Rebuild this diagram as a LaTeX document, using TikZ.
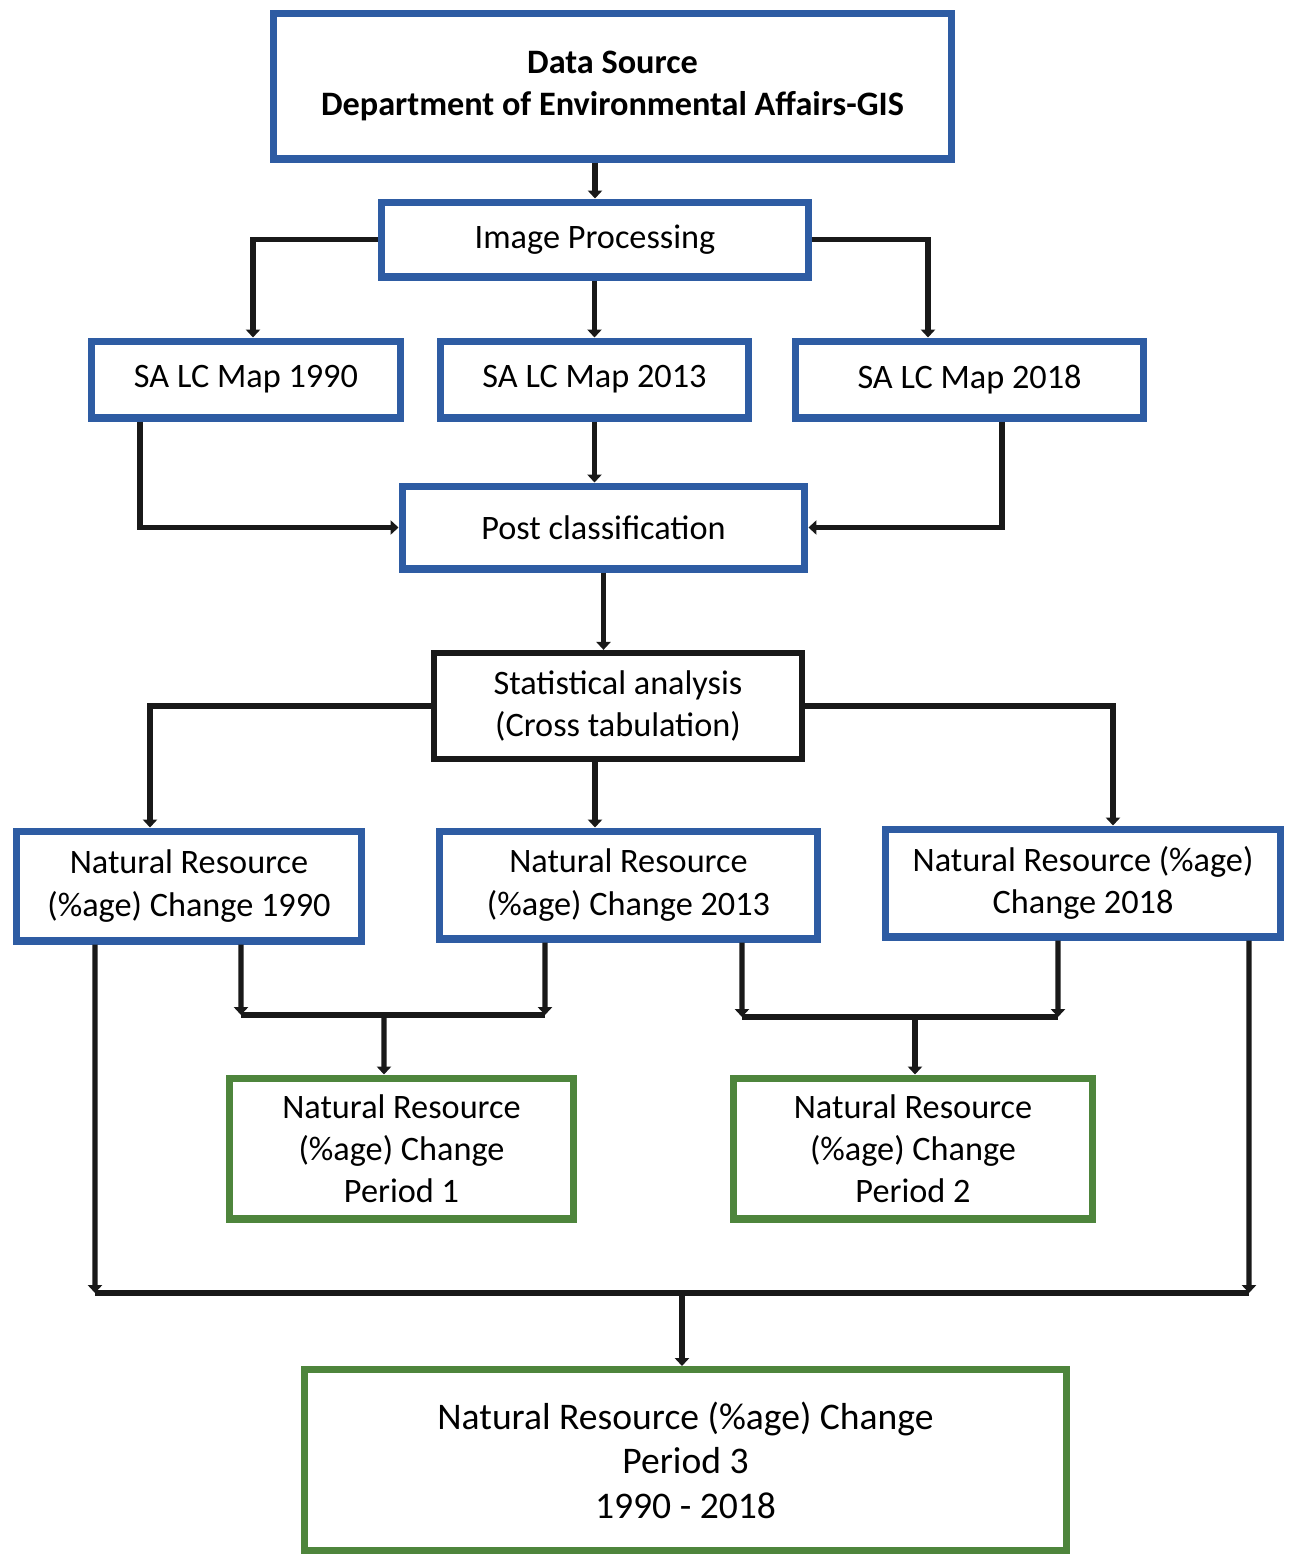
\documentclass[tikz,border=0pt]{standalone}
\usepackage{fontspec}
\setmainfont{Carlito}
\usetikzlibrary{arrows.meta, positioning}
\definecolor{boxblue}{RGB}{46,92,163}
\definecolor{boxgreen}{RGB}{78,133,60}
\begin{document}
\begin{tikzpicture}[
x=0.02cm, y=-0.02cm,
font=\fontsize{19.5}{24}\selectfont,
box/.style={draw, rectangle, line width=4pt, align=center, inner sep=2pt},
bluebox/.style={box, draw=boxblue},
greenbox/.style={box, draw=boxgreen},
blackbox/.style={box, draw=black!90, line width=3.6pt},
arrow/.style={-{Triangle[length=4.5pt,width=8pt]}, line width=3.1pt, black!90},
line/.style={line width=3.1pt, black!90}
]
\useasboundingbox (0,0) rectangle (1290,1556);

\node[bluebox, minimum width=13.58cm, minimum height=2.92cm] (source) at (612.5,86)
{\textbf{Data Source}\\
\textbf{Department of Environmental Affairs-GIS}};

\node[bluebox, minimum width=8.56cm, minimum height=1.5cm] (imgproc) at (595,239.5)
{Image Processing};

\node[bluebox, minimum width=6.2cm, minimum height=1.54cm] (map1990) at (246,379.5)
{SA LC Map 1990};

\node[bluebox, minimum width=6.18cm, minimum height=1.54cm] (map2013) at (594.5,379.5)
{SA LC Map 2013};

\node[bluebox, minimum width=6.98cm, minimum height=1.54cm] (map2018) at (969.5,379.5)
{SA LC Map 2018};

\node[bluebox, minimum width=8.06cm, minimum height=1.66cm] (postclass) at (603.5,527.5)
{Post classification};

\node[blackbox, minimum width=7.36cm, minimum height=2.12cm] (stats) at (618,706)
{Statistical analysis\\
(Cross tabulation)};

\node[bluebox, minimum width=6.92cm, minimum height=2.2cm] (nr1990) at (189,886)
{Natural Resource\\
(\%age) Change 1990};

\node[bluebox, minimum width=7.58cm, minimum height=2.16cm] (nr2013) at (628.5,885)
{Natural Resource\\
(\%age) Change 2013};

\node[bluebox, minimum width=7.92cm, minimum height=2.16cm] (nr2018) at (1083,883)
{Natural Resource (\%age)\\
Change 2018};

\node[greenbox, minimum width=6.9cm, minimum height=2.82cm] (period1) at (401.5,1148.5)
{Natural Resource\\
(\%age) Change\\
Period 1};

\node[greenbox, minimum width=7.2cm, minimum height=2.82cm] (period2) at (913,1148.5)
{Natural Resource\\
(\%age) Change\\
Period 2};

\node[greenbox, minimum width=15.26cm, minimum height=3.62cm,
  font=\fontsize{21.4}{25.4}\selectfont] (period3) at (685.5,1460)
{Natural Resource (\%age) Change\\
Period 3\\
1990 - 2018};

% merge points
\coordinate (mergeA) at (384,1015);
\coordinate (mergeAl) at (241,1015);
\coordinate (mergeAr) at (545,1015);
\coordinate (mergeB) at (915,1017);
\coordinate (mergeBl) at (742,1017);
\coordinate (mergeBr) at (1058,1017);
\coordinate (mergeC) at (682,1293);
\coordinate (mergeCl) at (95,1293);
\coordinate (mergeCr) at (1249,1293);

\draw[arrow] (imgproc.north |- source.south) -- (imgproc.north);
\draw[arrow] (imgproc.west) -| ([xshift=0.14cm]map1990.north);
\draw[arrow] (imgproc.south -| map2013.north) -- (map2013.north);
\draw[arrow] (imgproc.east) -| ([xshift=-0.83cm]map2018.north);

\draw[arrow] ([xshift=-2.12cm]map1990.south) |- (postclass.west);
\draw[arrow] (map2013.south) -- (map2013.south |- postclass.north);
\draw[arrow] ([xshift=0.65cm]map2018.south) |- (postclass.east);

\draw[arrow] (postclass.south) -- (postclass.south |- stats.north);

\draw[arrow] (stats.west) -| ([xshift=-0.78cm]nr1990.north);
\draw[arrow] (stats.south -| nr2013.north) ++(-0.67cm,0) -- ([xshift=-0.67cm]nr2013.north);
\draw[arrow] (stats.east) -| ([xshift=0.6cm]nr2018.north);

\draw[arrow] ([xshift=1.04cm]nr1990.south) -- (mergeAl);
\draw[arrow] ([xshift=-1.67cm]nr2013.south) -- (mergeAr);
\draw[line] (mergeAl) -- (mergeAr);
\draw[arrow] (mergeA) -- ([xshift=-0.35cm]period1.north);

\draw[arrow] ([xshift=2.27cm]nr2013.south) -- (mergeBl);
\draw[arrow] ([xshift=-0.5cm]nr2018.south) -- (mergeBr);
\draw[line] (mergeBl) -- (mergeBr);
\draw[arrow] (mergeB) -- (mergeB |- period2.north);

\draw[arrow] ([xshift=-1.88cm]nr1990.south) -- (mergeCl);
\draw[arrow] ([xshift=3.32cm]nr2018.south) -- (mergeCr);
\draw[line] (mergeCl) -- (mergeCr);
\draw[arrow] (mergeC) -- (mergeC |- period3.north);

\end{tikzpicture}
\end{document}
